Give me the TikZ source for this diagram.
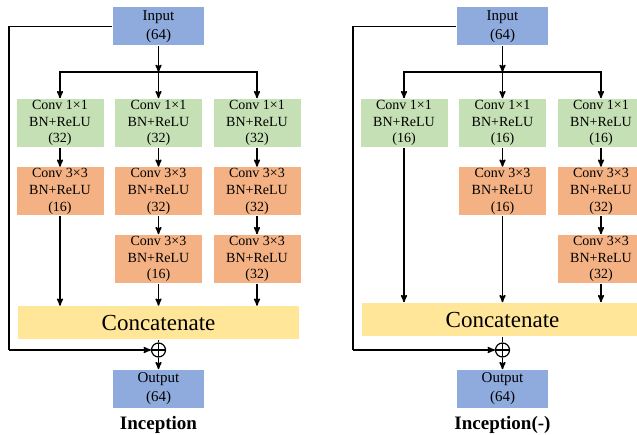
\documentclass[tikz,border=0pt]{standalone}
\usepackage{fontspec}
\setmainfont{Liberation Serif}
\usepackage{tikz}
\usetikzlibrary{arrows}
\usetikzlibrary{shapes, positioning, calc}

\definecolor{inblue}{HTML}{8FAADC}
\definecolor{cgreen}{HTML}{C5E0B4}
\definecolor{corange}{HTML}{F4B183}
\definecolor{cyellow}{HTML}{FFE699}

\begin{document}
\begin{tikzpicture}[x=1pt,y=-1pt,->,>=stealth',line width=1.5pt,
  io node/.style={rectangle,fill=inblue,minimum width=91pt,minimum height=38pt,
    inner sep=0pt,align=center,font=\rmfamily\fontsize{15}{19}\selectfont},
  c1 node/.style={rectangle,fill=cgreen,minimum width=87pt,minimum height=48pt,
    inner sep=0pt,align=center,font=\rmfamily\fontsize{14}{16.7}\selectfont},
  c3 node/.style={c1 node,fill=corange},
  cat node/.style={rectangle,fill=cyellow,minimum width=281pt,minimum height=33pt,
    inner sep=0pt,font=\rmfamily\fontsize{23}{27}\selectfont},
  add node/.style={circle,draw,line width=1.2pt,minimum size=14pt,inner sep=0pt,
    path picture={\draw[-,line width=1.2pt] (path picture bounding box.north) -- (path picture bounding box.south)
      (path picture bounding box.west) -- (path picture bounding box.east);}},
  name node/.style={font=\rmfamily\bfseries\fontsize{19}{22}\selectfont}]
  \clip (0,0) rectangle (637,435);

  % Inception
  \node[io node] (1) at (158.5,26.5) {Input\\(64)};
  \node[c1 node] (3) at (158.5,123) {Conv 1×1\\BN+ReLU\\(32)};
  \node[c1 node, left=10pt of 3] (2) {Conv 1×1\\BN+ReLU\\(32)};
  \node[c1 node, right=10pt of 3] (4) {Conv 1×1\\BN+ReLU\\(32)};
  \node[c3 node, below=19pt of 2] (5) {Conv 3×3\\BN+ReLU\\(16)};
  \node[c3 node, below=19pt of 3] (6) {Conv 3×3\\BN+ReLU\\(32)};
  \node[c3 node, below=19pt of 4] (7) {Conv 3×3\\BN+ReLU\\(32)};
  \node[c3 node, below=18pt of 6] (8) {Conv 3×3\\BN+ReLU\\(16)};
  \node[c3 node, below=18pt of 7] (9) {Conv 3×3\\BN+ReLU\\(32)};
  \node[cat node, below=22pt of 8] (10) {Concatenate};
  \node[add node] (11) at (158.5,350) {};
  \node[io node] (12) at (158.5,389) {Output\\(64)};
  \node[name node] (13) at (158.5,425) {Inception};
  \coordinate (b1) at (158.5,72);
  \coordinate (s1) at (9,350);
  \draw (1) -- (b1);
  \draw (b1) -| (2);
  \draw (b1) -- (3);
  \draw (b1) -| (4);
  \draw (2) -- (5);
  \draw (3) -- (6);
  \draw (4) -- (7);
  \draw (6) -- (8);
  \draw (7) -- (9);
  \draw (5) -- (5 |- 10.north);
  \draw (8) -- (10);
  \draw (9) -- (9 |- 10.north);
  \draw[-] (10) -- (11);
  \draw (11) -- (12);
  \draw[-] (1.west) -| (s1);
  \draw (s1) -- (11);

  % Inception(-)
  \node[io node] (14) at (502.5,26.5) {Input\\(64)};
  \node[c1 node] (16) at (502.5,123) {Conv 1×1\\BN+ReLU\\(16)};
  \node[c1 node, left=10pt of 16] (15) {Conv 1×1\\BN+ReLU\\(16)};
  \node[c1 node, right=10pt of 16] (17) {Conv 1×1\\BN+ReLU\\(16)};
  \node[c3 node, below=19pt of 16] (18) {Conv 3×3\\BN+ReLU\\(16)};
  \node[c3 node, below=19pt of 17] (19) {Conv 3×3\\BN+ReLU\\(32)};
  \node[c3 node, below=18pt of 19] (20) {Conv 3×3\\BN+ReLU\\(32)};
  \node[cat node] (21) at (502.5,319.5) {Concatenate};
  \node[add node] (22) at (502.5,350) {};
  \node[io node] (23) at (502.5,389) {Output\\(64)};
  \node[name node] (24) at (502.5,425) {Inception(-)};
  \coordinate (b2) at (502.5,72);
  \coordinate (s2) at (353,350);
  \draw (14) -- (b2);
  \draw (b2) -| (15);
  \draw (b2) -- (16);
  \draw (b2) -| (17);
  \draw (16) -- (18);
  \draw (17) -- (19);
  \draw (19) -- (20);
  \draw (15) -- (15 |- 21.north);
  \draw (18) -- (21);
  \draw (20) -- (20 |- 21.north);
  \draw[-] (21) -- (22);
  \draw (22) -- (23);
  \draw[-] (14.west) -| (s2);
  \draw (s2) -- (22);
\end{tikzpicture}
\end{document}
